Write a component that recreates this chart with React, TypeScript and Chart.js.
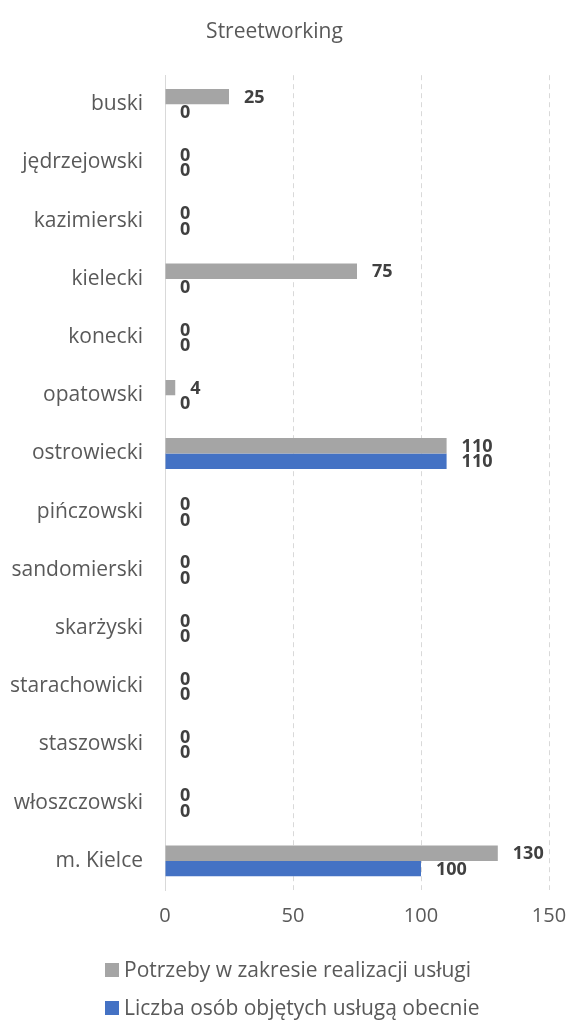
import React, { useEffect, useRef } from "react";
import { Chart, registerables } from "chart.js";

Chart.register(...registerables);

const TITLE = "Streetworking";
const CATEGORIES = [
  "buski",
  "jędrzejowski",
  "kazimierski",
  "kielecki",
  "konecki",
  "opatowski",
  "ostrowiecki",
  "pińczowski",
  "sandomierski",
  "skarżyski",
  "starachowicki",
  "staszowski",
  "włoszczowski",
  "m. Kielce",
];
const SERIES_NEEDS_LABEL = "Potrzeby w zakresie realizacji usługi";
const SERIES_NEEDS = [25, 0, 0, 75, 0, 4, 110, 0, 0, 0, 0, 0, 0, 130];
const SERIES_CURRENT_LABEL = "Liczba osób objętych usługą obecnie";
const SERIES_CURRENT = [0, 0, 0, 0, 0, 0, 110, 0, 0, 0, 0, 0, 0, 100];
const X_MIN = 0;
const X_MAX = 150;
const X_STEP = 50;

const FONT = "'Open Sans', sans-serif";
const TEXT = "#595959";
const GRAY = "#a5a5a5";
const BLUE = "#4472c4";

const labelPlugin = {
  id: "barLabels",
  afterDatasetsDraw(chart: any) {
    const ctx = chart.ctx;
    ctx.save();
    ctx.font = `bold 18px ${FONT}`;
    ctx.fillStyle = "#404040";
    ctx.textAlign = "left";
    ctx.textBaseline = "middle";
    chart.data.datasets.forEach((ds: any, di: number) => {
      const meta = chart.getDatasetMeta(di);
      meta.data.forEach((bar: any, i: number) => {
        ctx.fillText(String(ds.data[i]), bar.x + 15, bar.y + 1);
      });
    });
    ctx.restore();
  },
};

const legendPlugin = {
  id: "customLegend",
  afterDraw(chart: any) {
    const ctx = chart.ctx;
    const items = [
      { text: SERIES_NEEDS_LABEL, color: GRAY },
      { text: SERIES_CURRENT_LABEL, color: BLUE },
    ];
    ctx.save();
    ctx.font = `21px ${FONT}`;
    const maxW = Math.max(...items.map((it) => ctx.measureText(it.text).width));
    const blockW = 14 + 5 + maxW;
    const x0 = Math.round(chart.width / 2 + 9 - blockW / 2);
    const ys = [970, 1008];
    items.forEach((it, i) => {
      ctx.fillStyle = it.color;
      ctx.fillRect(x0, ys[i] - 7, 14, 14);
      ctx.fillStyle = TEXT;
      ctx.textAlign = "left";
      ctx.textBaseline = "middle";
      ctx.fillText(it.text, x0 + 19, ys[i] + 1);
    });
    ctx.restore();
  },
};

export default function App() {
  const ref = useRef<HTMLCanvasElement>(null);
  useEffect(() => {
    document.body.style.margin = "0";
    const chart = new Chart(ref.current!, {
      type: "bar",
      data: {
        labels: CATEGORIES,
        datasets: [
          {
            label: SERIES_NEEDS_LABEL,
            data: SERIES_NEEDS,
            backgroundColor: GRAY,
            barPercentage: 1,
            categoryPercentage: 0.53,
          },
          {
            label: SERIES_CURRENT_LABEL,
            data: SERIES_CURRENT,
            backgroundColor: BLUE,
            barPercentage: 1,
            categoryPercentage: 0.53,
          },
        ],
      },
      options: {
        indexAxis: "y",
        responsive: false,
        animation: false,
        layout: { padding: { left: 0, right: 18, top: 0, bottom: 100 } },
        plugins: {
          legend: { display: false },
          tooltip: { enabled: false },
          title: {
            display: true,
            text: TITLE,
            color: TEXT,
            font: { family: FONT, size: 21, weight: "normal" },
            padding: { top: 19, bottom: 31 },
          },
        },
        scales: {
          x: {
            min: X_MIN,
            max: X_MAX,
            ticks: {
              stepSize: X_STEP,
              color: TEXT,
              font: { family: FONT, size: 20 },
              padding: 14,
            },
            grid: {
              drawTicks: false,
              color: (c: any) => (c.tick && c.tick.value === 0 ? "rgba(0,0,0,0)" : "#d9d9d9"),
              lineWidth: 1,
            },
            border: { display: false, dash: [5, 4] },
            afterFit: (s: any) => {
              s.height = 36;
              s.paddingLeft = 0;
              s.paddingRight = 0;
            },
          },
          y: {
            ticks: {
              color: TEXT,
              font: { family: FONT, size: 21 },
              padding: 22,
            },
            grid: { display: false, drawTicks: false },
            border: { display: true, color: "#d9d9d9", width: 1 },
            afterFit: (s: any) => {
              s.width = 165;
              s.paddingTop = 0;
              s.paddingBottom = 0;
            },
          },
        },
      },
      plugins: [labelPlugin, legendPlugin],
    });
    return () => chart.destroy();
  }, []);
  return <canvas ref={ref} width={567} height={1026} style={{ display: "block" }} />;
}
